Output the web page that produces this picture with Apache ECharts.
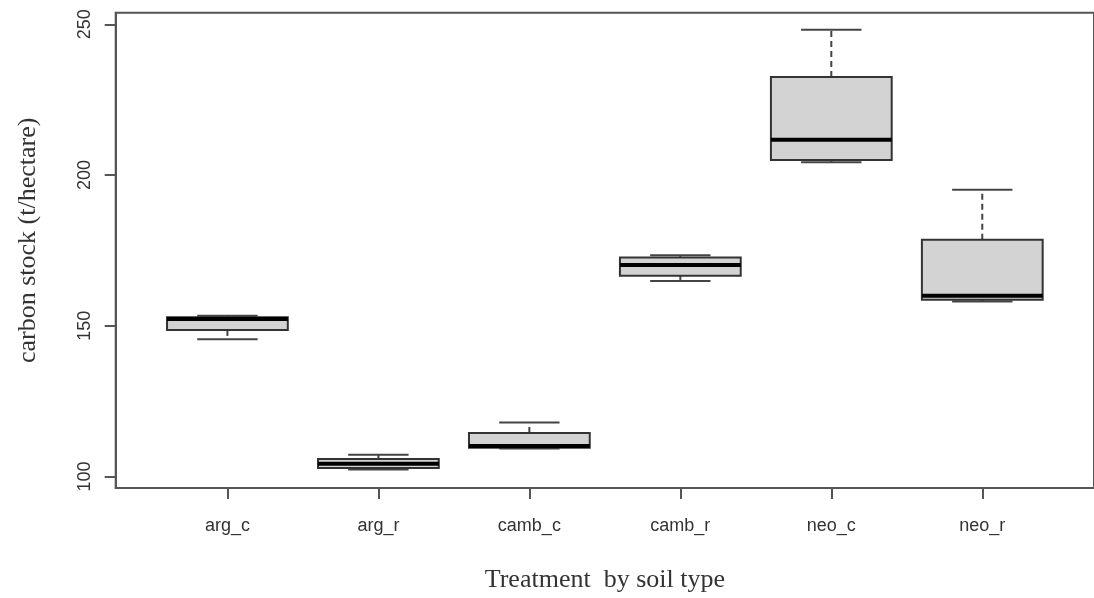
<!DOCTYPE html>
<html>
<head>
<meta charset="utf-8">
<script src="https://cdn.jsdelivr.net/npm/echarts@6/dist/echarts.min.js"></script>
<style>
html,body{margin:0;padding:0;background:#fff;}
#chart{width:1094px;height:598px;}
</style>
</head>
<body>
<div id="chart"></div>
<script>
// ---- data ----
const categories  = ['arg_c', 'arg_r', 'camb_c', 'camb_r', 'neo_c', 'neo_r'];
const whiskerLow  = [145.5, 102.3, 109.3, 164.8, 204.2, 158.0];
const q1          = [148.6, 102.8, 109.5, 166.6, 205.0, 158.6];
const median      = [152.2, 104.2, 110.1, 170.1, 211.7, 159.9];
const q3          = [152.8, 105.8, 114.4, 172.6, 232.5, 178.5];
const whiskerHigh = [153.3, 107.2, 117.9, 173.4, 248.2, 195.1];
const yTicks      = [100, 150, 200, 250];

const positions = categories.map((c, i) => i + 1);
const seriesData = categories.map((c, i) => [positions[i], whiskerLow[i], q1[i], median[i], q3[i], whiskerHigh[i]]);

const chart = echarts.init(document.getElementById('chart'), null, {renderer: 'canvas'});

function renderBox(params, api) {
  const x = api.value(0);
  const lo = api.coord([x, api.value(1)]);
  const b1 = api.coord([x, api.value(2)]);
  const md = api.coord([x, api.value(3)]);
  const b3 = api.coord([x, api.value(4)]);
  const hi = api.coord([x, api.value(5)]);
  const boxW = api.size([0.8, 0])[0];
  const capW = boxW / 2;
  const cx = lo[0];
  const wStyle = {stroke: '#444', lineWidth: 2, lineDash: [6, 4]};
  const cStyle = {stroke: '#444', lineWidth: 2};
  return {
    type: 'group',
    children: [
      {type: 'line', shape: {x1: cx, y1: b3[1], x2: cx, y2: hi[1]}, style: wStyle},
      {type: 'line', shape: {x1: cx, y1: b1[1], x2: cx, y2: lo[1]}, style: wStyle},
      {type: 'line', shape: {x1: cx - capW / 2, y1: hi[1], x2: cx + capW / 2, y2: hi[1]}, style: cStyle},
      {type: 'line', shape: {x1: cx - capW / 2, y1: lo[1], x2: cx + capW / 2, y2: lo[1]}, style: cStyle},
      {type: 'rect', shape: {x: cx - boxW / 2, y: b3[1], width: boxW, height: b1[1] - b3[1]},
        style: {fill: '#d3d3d3', stroke: '#333', lineWidth: 2}},
      {type: 'line', shape: {x1: cx - boxW / 2, y1: md[1], x2: cx + boxW / 2, y2: md[1]},
        style: {stroke: '#000', lineWidth: 4}}
    ]
  };
}

chart.setOption({
  animation: false,
  backgroundColor: '#fff',
  grid: {left: 115.7, right: -3, top: 12.7, bottom: 108, show: true, borderColor: '#555', borderWidth: 2, backgroundColor: 'transparent'},
  xAxis: {
    type: 'value', min: 0.26, max: 6.74,
    name: 'Treatment  by soil type', nameLocation: 'middle', nameGap: 79,
    nameTextStyle: {fontFamily: 'Liberation Serif', fontSize: 26, color: '#333'},
    axisLine: {show: true, onZero: false, lineStyle: {color: '#555', width: 2}},
    axisTick: {show: true, length: 11, lineStyle: {color: '#555', width: 2}, customValues: positions},
    axisLabel: {show: true, customValues: positions, margin: 29, fontFamily: 'Liberation Sans', fontSize: 18, color: '#333',
      formatter: v => categories[Math.round(v) - 1] || ''},
    splitLine: {show: false}
  },
  yAxis: {
    type: 'value', min: 96.16, max: 253.84,
    name: 'carbon stock (t/hectare)', nameLocation: 'middle', nameGap: 75, nameRotate: 90,
    nameTextStyle: {fontFamily: 'Liberation Serif', fontSize: 26, color: '#333', padding: [0, 0, 0, 20]},
    axisLine: {show: true, onZero: false, lineStyle: {color: '#555', width: 2}},
    axisTick: {show: true, length: 11, lineStyle: {color: '#555', width: 2}, customValues: yTicks},
    axisLabel: {show: true, customValues: yTicks, rotate: 90, margin: 22, fontFamily: 'Liberation Sans', fontSize: 18, color: '#333'},
    splitLine: {show: false}
  },
  series: [{
    type: 'custom',
    renderItem: renderBox,
    encode: {x: 0, y: [1, 2, 3, 4, 5]},
    data: seriesData,
    clip: false
  }]
});
</script>
</body>
</html>
